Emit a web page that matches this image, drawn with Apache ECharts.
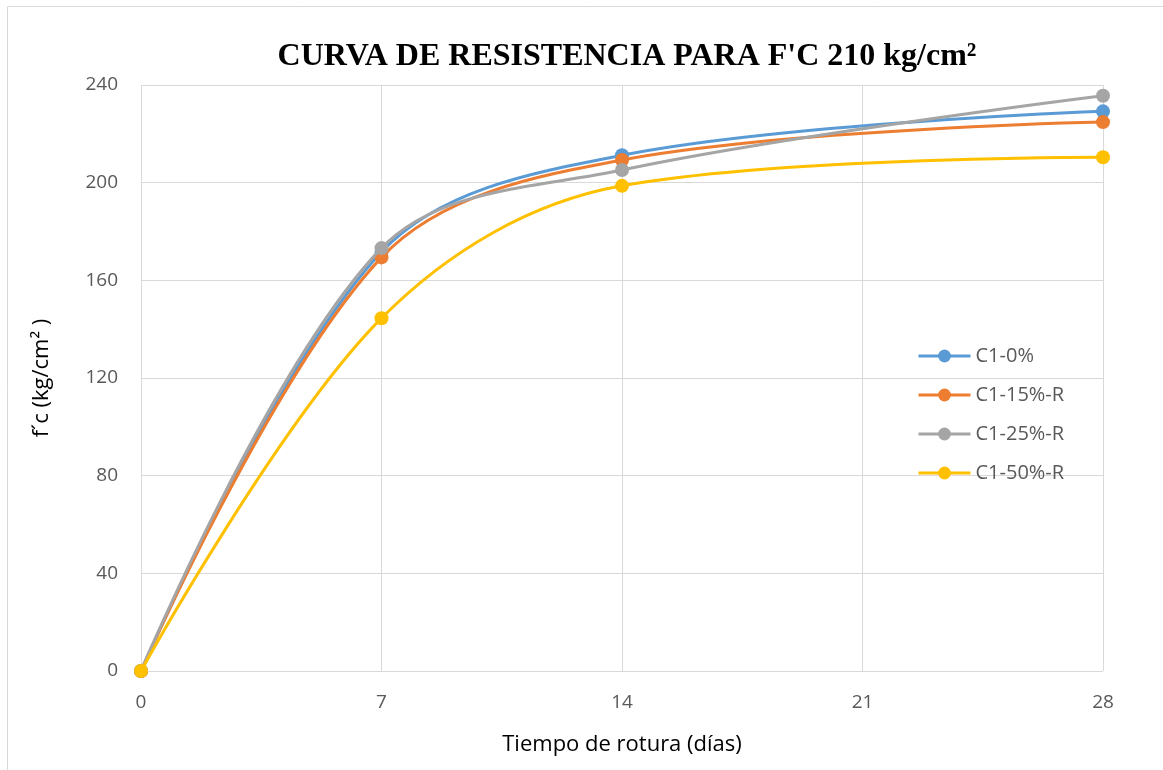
<!DOCTYPE html>
<html><head><meta charset="utf-8">
<script src="https://cdn.jsdelivr.net/npm/echarts@6/dist/echarts.min.js"></script>
<style>html,body{margin:0;padding:0;background:#fff}#c{width:1163px;height:770px}</style>
</head><body><div id="c"></div>
<script>
const days = [0, 7, 14, 28];
const xTicks = [0, 7, 14, 21, 28];
const seriesNames = ['C1-0%', 'C1-15%-R', 'C1-25%-R', 'C1-50%-R'];
const c1_0 = [0, 171.6, 211.2, 229.2];
const c1_15 = [0, 169.4, 209.3, 224.8];
const c1_25 = [0, 173.2, 205.2, 235.6];
const c1_50 = [0, 144.5, 198.7, 210.4];
const colors = ['#5B9BD5', '#ED7D31', '#A5A5A5', '#FFC000'];
const values = [c1_0, c1_15, c1_25, c1_50];

const chart = echarts.init(document.getElementById('c'));
const font = 'Open Sans, Liberation Sans, sans-serif';
chart.setOption({
  animation: false,
  title: {
    text: 'CURVA DE RESISTENCIA PARA F\'C 210 kg/cm²',
    left: 622, top: 36, textAlign: 'center',
    textStyle: {fontFamily: 'Liberation Serif, Times New Roman, serif', fontWeight: 'bold', fontSize: 32, color: '#000'}
  },
  graphic: [{type: 'rect', shape: {x: 7.5, y: 6.5, width: 1200, height: 800}, style: {fill: 'none', stroke: '#d9d9d9', lineWidth: 1}, silent: true}],
  grid: {left: 141, right: 60, top: 85, bottom: 99},
  legend: {
    orient: 'vertical', left: 912, top: 341, itemGap: 19, itemWidth: 52, itemHeight: 16,
    data: seriesNames,
    lineStyle: {width: 3},
    textStyle: {fontFamily: font, fontSize: 20, lineHeight: 16, color: '#595959'}
  },
  xAxis: {
    type: 'value', min: 0, max: 28, interval: 7,
    name: 'Tiempo de rotura (días)', nameLocation: 'middle', nameGap: 63,
    nameTextStyle: {fontFamily: font, fontSize: 22, color: '#000'},
    axisLine: {show: false}, axisTick: {show: false},
    axisLabel: {fontFamily: font, fontSize: 19, color: '#595959', margin: 22},
    splitLine: {show: true, lineStyle: {color: '#d9d9d9', width: 1}}
  },
  yAxis: {
    type: 'value', min: 0, max: 240, interval: 40,
    name: 'f´c (kg/cm² )', nameLocation: 'middle', nameGap: 88, nameRotate: 90,
    nameTextStyle: {fontFamily: font, fontSize: 22, color: '#000'},
    axisLine: {show: false}, axisTick: {show: false},
    axisLabel: {fontFamily: font, fontSize: 19, color: '#595959', margin: 23},
    splitLine: {show: true, lineStyle: {color: '#d9d9d9', width: 1}}
  },
  series: seriesNames.map((n, i) => ({
    name: n, type: 'line', smooth: 0.35,
    data: days.map((d, j) => [d, values[i][j]]),
    symbol: 'circle', symbolSize: 14,
    lineStyle: {color: colors[i], width: 3},
    itemStyle: {color: colors[i]},
    z: 2 + i
  }))
});
</script></body></html>
